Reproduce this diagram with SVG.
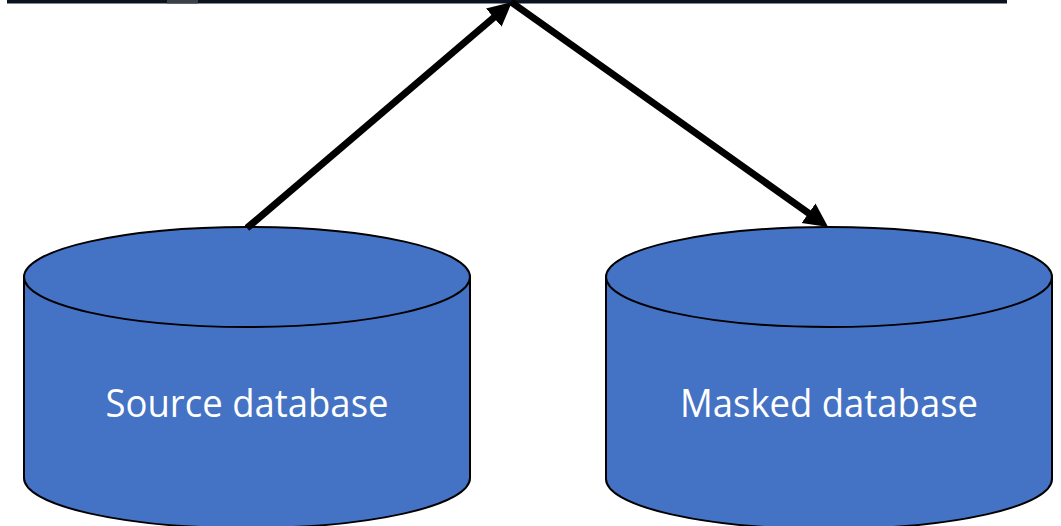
<svg xmlns="http://www.w3.org/2000/svg" width="1061" height="526" viewBox="0 0 1061 526">
  <style>
    .cyl { fill: #4472C4; stroke: #000; stroke-width: 2; }
    .rim { fill: none; stroke: #000; stroke-width: 2; }
    .label { font-family: "Open Sans", "Liberation Sans", sans-serif; font-size: 38px; fill: #fff; text-anchor: middle; }
    .conn { stroke: #000; stroke-width: 7; fill: none; }
  </style>
  <defs>
    <marker id="arrow" markerUnits="userSpaceOnUse" markerWidth="26" markerHeight="26" refX="3" refY="12" orient="auto">
      <path d="M0,0 L24,12 L0,24 Z" fill="#000"/>
    </marker>
  </defs>
  <rect x="0" y="0" width="1061" height="526" fill="#fff"/>
  <g id="top-bar">
    <rect x="7" y="0" width="1000" height="3.5" fill="#0b1320"/>
    <rect x="167" y="0" width="31" height="3.5" fill="#3b4049"/>
  </g>
  <g id="source-db">
    <path class="cyl" d="M24,277 A223,50 0 0 1 470,277 V478 A223,50 0 0 1 24,478 Z"/>
    <path class="rim" d="M24,277 A223,50 0 0 0 470,277"/>
    <text class="label" x="247" y="417" textLength="283" lengthAdjust="spacingAndGlyphs">Source database</text>
  </g>
  <g id="masked-db">
    <path class="cyl" d="M606,277 A223,50 0 0 1 1052,277 V479 A223,50 0 0 1 606,479 Z"/>
    <path class="rim" d="M606,277 A223,50 0 0 0 1052,277"/>
    <text class="label" x="829" y="417" textLength="298" lengthAdjust="spacingAndGlyphs">Masked database</text>
  </g>
  <g id="connectors">
    <line class="conn" x1="247" y1="228" x2="496" y2="15.6" marker-end="url(#arrow)"/>
    <line class="conn" x1="511" y1="2" x2="811" y2="214.9" marker-end="url(#arrow)"/>
  </g>
</svg>
